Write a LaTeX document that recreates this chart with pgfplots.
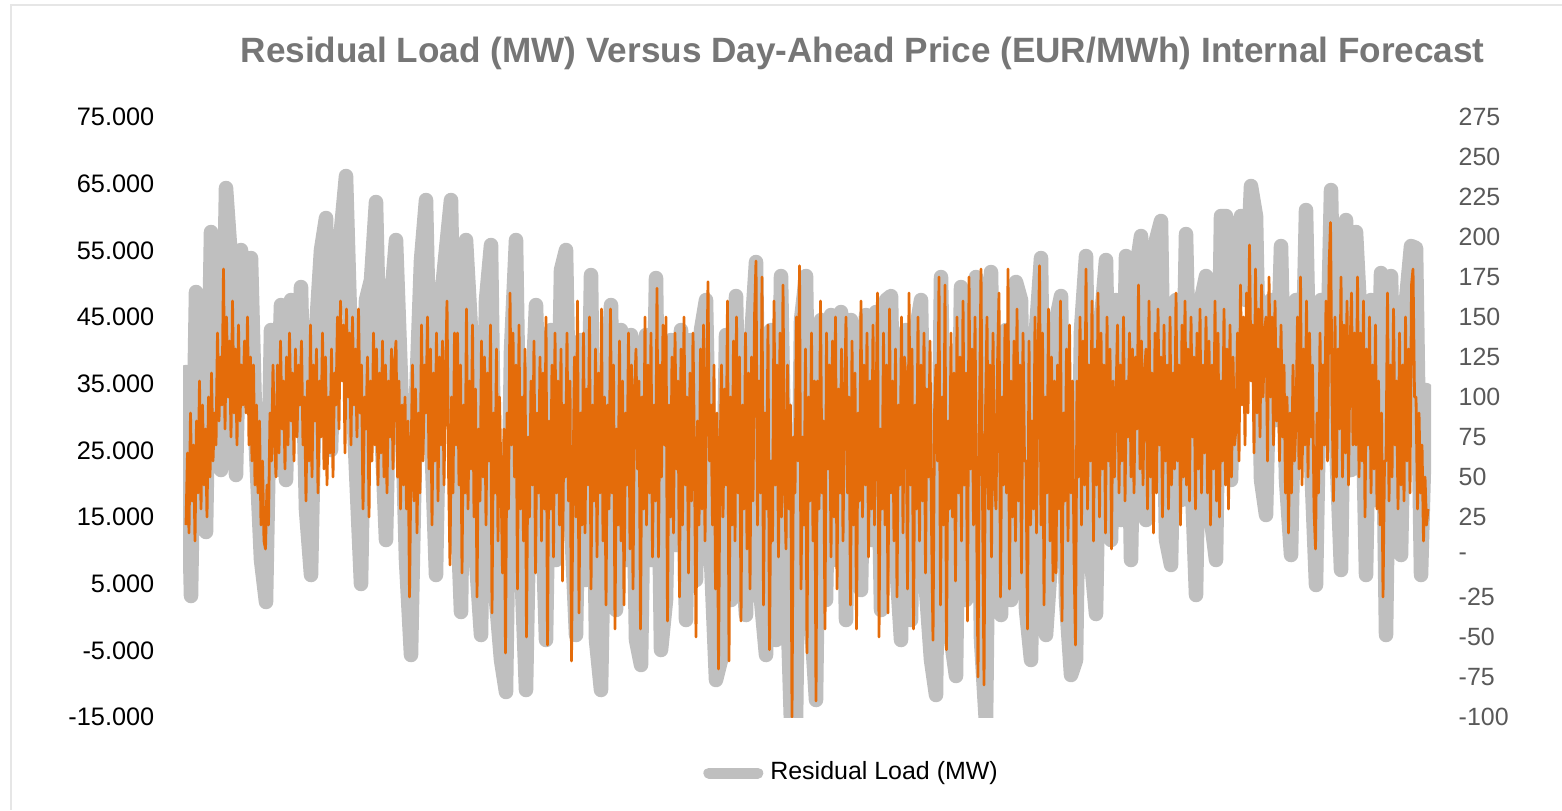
\documentclass[border=0pt]{standalone}
\usepackage{pgfplots}
\pgfplotsset{compat=1.18}
\usepackage{pgfplotstable}
\usepackage{fontspec}
\setmainfont{Liberation Sans}
\definecolor{grayc}{HTML}{BFBFBF}
\definecolor{orangec}{HTML}{E46C0A}
\definecolor{titlec}{HTML}{767676}
\definecolor{rtick}{HTML}{595959}
\definecolor{framec}{HTML}{E6E6E6}

% Residual load (MW), one value every 5 px of the plot width
\pgfplotstableread[row sep=\\]{
y\\
36750\\ 3150\\ 48750\\ 29550\\ 12750\\ 57750\\ 43050\\ 22050\\ 64350\\ 53550\\
21300\\ 55050\\ 32550\\ 53850\\ 25050\\ 8550\\ 2250\\ 43050\\ 22050\\ 46800\\
20550\\ 47550\\ 28050\\ 49500\\ 16050\\ 6300\\ 43050\\ 55050\\ 59850\\ 25050\\
49050\\ 58050\\ 66150\\ 40050\\ 22050\\ 4950\\ 47550\\ 50550\\ 62250\\ 29550\\
11550\\ 47550\\ 56550\\ 35550\\ 8550\\ -5700\\ 32550\\ 53550\\ 62550\\ 28050\\
6300\\ 47550\\ 55050\\ 62550\\ 20550\\ 750\\ 56550\\ 43050\\ 8550\\ -2700\\
47550\\ 55800\\ 2550\\ -6450\\ -11250\\ 40050\\ 56550\\ 8550\\ -10950\\ 29550\\
46800\\ 20550\\ -3450\\ 43050\\ 8550\\ 52050\\ 55050\\ 14550\\ -2700\\ 41550\\
5550\\ 51300\\ -3450\\ -10950\\ 29550\\ 46800\\ 1050\\ 43050\\ 8550\\ 42300\\
-3450\\ -7200\\ 42300\\ 8550\\ 50850\\ -4950\\ 2550\\ 41550\\ 10800\\ 43050\\
-450\\ 41550\\ 5550\\ 43050\\ 47550\\ 8550\\ -9450\\ -6450\\ 42300\\ 2550\\
48150\\ 11550\\ 300\\ 41550\\ 53250\\ 2550\\ -5700\\ 43050\\ -3450\\ 51150\\
8550\\ -16000\\ -16000\\ 44550\\ 51150\\ -450\\ -12450\\ 44550\\ 2550\\ 45300\\
8550\\ 45750\\ -450\\ 44550\\ 5550\\ 4050\\ 45300\\ 11550\\ 45750\\ 1050\\
47550\\ 48150\\ 8550\\ -3450\\ 43050\\ -450\\ 43050\\ 47550\\ 4050\\ -6450\\
-11700\\ 51000\\ 8550\\ -3450\\ -8850\\ 49500\\ 2550\\ 43050\\ 51000\\ -3450\\
-16000\\ 51750\\ 8550\\ 300\\ 43050\\ 2550\\ 50250\\ 47550\\ 1050\\ -6450\\
43050\\ 53850\\ -2700\\ 8550\\ 44550\\ 48150\\ 2550\\ -8700\\ -6450\\ 43050\\
54150\\ 8550\\ 450\\ 44550\\ 53550\\ 11550\\ 47550\\ 14550\\ 54150\\ 8550\\
52050\\ 57150\\ 14550\\ 43050\\ 56550\\ 59400\\ 11550\\ 7800\\ 47550\\ 17550\\
57450\\ 23550\\ 3300\\ 47550\\ 51150\\ 14550\\ 8550\\ 60150\\ 60150\\ 20550\\
53550\\ 60150\\ 47550\\ 64650\\ 60150\\ 20550\\ 15300\\ 47550\\ 29550\\ 55650\\
20550\\ 9300\\ 47550\\ 26550\\ 61050\\ 23550\\ 4800\\ 47550\\ 29550\\ 64050\\
26550\\ 7050\\ 59550\\ 22050\\ 57750\\ 43050\\ 6300\\ 47550\\ 17550\\ 51600\\
-2700\\ 51150\\ 20550\\ 9300\\ 47550\\ 55650\\ 55350\\ 6300\\ 34050\\
}\grayload

% Day-ahead price (EUR/MWh), one value every 1.5 px of the plot width
\pgfplotstableread[row sep=\\]{
y\\
20\\ 65\\ 15\\ 90\\ 35\\ 70\\ 10\\ 85\\ 40\\ 110\\ 30\\ 95\\ 45\\ 80\\ 25\\ 100\\ 50\\ 115\\ 60\\ 90\\
70\\ 140\\ 85\\ 125\\ 95\\ 180\\ 80\\ 150\\ 100\\ 135\\ 75\\ 160\\ 90\\ 130\\ 70\\ 145\\ 85\\ 120\\ 95\\ 135\\
90\\ 150\\ 70\\ 125\\ 60\\ 120\\ 45\\ 95\\ 40\\ 85\\ 20\\ 60\\ 10\\ 5\\ 45\\ 20\\ 90\\ 60\\ 120\\ 75\\
50\\ 120\\ 65\\ 135\\ 80\\ 110\\ 55\\ 125\\ 70\\ 140\\ 85\\ 115\\ 60\\ 130\\ 75\\ 120\\ 95\\ 135\\ 70\\ 100\\
35\\ 110\\ 60\\ 145\\ 50\\ 120\\ 85\\ 130\\ 40\\ 110\\ 75\\ 140\\ 55\\ 125\\ 45\\ 100\\ 65\\ 130\\ 50\\ 115\\
95\\ 150\\ 80\\ 160\\ 110\\ 145\\ 65\\ 155\\ 100\\ 140\\ 70\\ 150\\ 95\\ 130\\ 75\\ 155\\ 90\\ 120\\ 30\\ 100\\
80\\ 125\\ 25\\ 110\\ 60\\ 140\\ 70\\ 130\\ 45\\ 115\\ 65\\ 135\\ 50\\ 120\\ 40\\ 110\\ 75\\ 130\\ 55\\ 120\\
135\\ 50\\ 110\\ 30\\ 95\\ 45\\ 100\\ 30\\ 85\\ -25\\ 60\\ 120\\ 35\\ 105\\ 15\\ 90\\ 40\\ 145\\ 60\\ 120\\
90\\ 150\\ 55\\ 130\\ 20\\ 115\\ 60\\ 140\\ 35\\ 125\\ 70\\ 135\\ 45\\ 110\\ 160\\ 55\\ -5\\ 100\\ 40\\ 140\\
70\\ 140\\ 45\\ 120\\ -10\\ 95\\ 40\\ 155\\ 30\\ 110\\ 55\\ 145\\ 25\\ 105\\ -25\\ 80\\ 35\\ 135\\ 50\\ 125\\
20\\ 115\\ 60\\ 145\\ -35\\ 90\\ 40\\ 130\\ 10\\ 100\\ 50\\ -10\\ 80\\ -60\\ 90\\ 30\\ 165\\ 70\\ 140\\ 50\\
120\\ -20\\ 145\\ 30\\ 100\\ 10\\ 130\\ -50\\ 75\\ 25\\ 110\\ 45\\ 135\\ -10\\ 90\\ 40\\ 125\\ 10\\ 115\\ 30\\
150\\ -55\\ 85\\ 30\\ 120\\ 0\\ 140\\ 40\\ 110\\ 20\\ 130\\ -15\\ 95\\ 50\\ 140\\ 35\\ 110\\ -65\\ 45\\ 125\\
25\\ 160\\ -35\\ 90\\ 20\\ 140\\ 15\\ 105\\ 45\\ 150\\ -20\\ 95\\ 35\\ 130\\ 0\\ 115\\ 40\\ 155\\ 10\\ 100\\
-30\\ 95\\ 30\\ 155\\ 40\\ 120\\ -45\\ 80\\ 20\\ 135\\ 10\\ 110\\ -30\\ 90\\ 45\\ 140\\ 5\\ 120\\ -20\\ 100\\
130\\ 55\\ 110\\ -45\\ 100\\ 30\\ 150\\ 20\\ 120\\ 40\\ 140\\ 0\\ 95\\ 35\\ 168\\ 0\\ 120\\ 50\\ 145\\ 70\\
150\\ -40\\ 95\\ 25\\ 125\\ 15\\ 140\\ 55\\ 110\\ -25\\ 130\\ 20\\ 150\\ 45\\ 100\\ -10\\ 115\\ 35\\ 140\\ 60\\
-50\\ 85\\ 20\\ 130\\ 30\\ 145\\ 10\\ 100\\ 172\\ 60\\ 95\\ 20\\ 120\\ -20\\ 90\\ -70\\ 60\\ 120\\ 25\\ 105\\
45\\ 160\\ -65\\ 100\\ 20\\ 135\\ 10\\ 150\\ 40\\ 125\\ -40\\ 95\\ 30\\ 140\\ 5\\ 115\\ -20\\ 125\\ 35\\ 150\\
185\\ 20\\ 110\\ 40\\ 175\\ -30\\ 90\\ 30\\ 145\\ -58\\ 60\\ 10\\ 160\\ 45\\ 120\\ 0\\ 140\\ 25\\ 170\\ 50\\
5\\ 120\\ 30\\ 95\\ -100\\ 75\\ 40\\ 150\\ 60\\ 182\\ -20\\ 75\\ 20\\ 130\\ -60\\ 100\\ 35\\ 140\\ 10\\ 110\\
-90\\ 110\\ 30\\ 160\\ 40\\ 85\\ -45\\ 140\\ 55\\ 120\\ 0\\ 135\\ 25\\ 150\\ -20\\ 105\\ 40\\ 130\\ 10\\ 95\\
150\\ 40\\ 100\\ -30\\ 135\\ 20\\ 115\\ -45\\ 90\\ 35\\ 160\\ 25\\ 120\\ 45\\ 140\\ 0\\ 110\\ 30\\ 145\\ 20\\
90\\ 165\\ -50\\ 80\\ 30\\ 140\\ 20\\ 120\\ -35\\ 155\\ 40\\ 110\\ 10\\ 130\\ -25\\ 95\\ 45\\ 150\\ 15\\ 125\\
110\\ -20\\ 165\\ 45\\ 130\\ -45\\ 95\\ 30\\ 150\\ 10\\ 120\\ 35\\ 140\\ -10\\ 105\\ 50\\ 135\\ 20\\ -52\\ 90\\
120\\ 60\\ 175\\ -30\\ 100\\ 20\\ 170\\ -58\\ 85\\ 30\\ 140\\ 25\\ 115\\ -15\\ 150\\ 40\\ 125\\ 10\\ 160\\ 45\\
115\\ -40\\ 175\\ 55\\ 130\\ 20\\ 150\\ 30\\ -75\\ 90\\ 180\\ 40\\ -80\\ 90\\ 150\\ 30\\ 120\\ 0\\ 140\\ 50\\
30\\ 120\\ 165\\ -25\\ 100\\ 45\\ 145\\ 40\\ 180\\ -20\\ 110\\ 25\\ 135\\ 10\\ 155\\ 35\\ 120\\ -10\\ 140\\ 60\\
60\\ -45\\ 135\\ 20\\ 85\\ 30\\ 150\\ 15\\ 120\\ 182\\ 20\\ 140\\ -30\\ 100\\ 40\\ 155\\ 10\\ 125\\ -15\\ 110\\
-10\\ 120\\ 30\\ 160\\ -40\\ 90\\ 35\\ 130\\ 10\\ 145\\ 40\\ 110\\ 0\\ -55\\ 110\\ 50\\ 150\\ 20\\ 135\\ 45\\
180\\ 30\\ 120\\ 60\\ 160\\ 10\\ 130\\ 45\\ 165\\ 25\\ 140\\ 55\\ 120\\ 15\\ 150\\ 60\\ 130\\ 5\\ 110\\ 50\\
100\\ 145\\ 40\\ 120\\ 60\\ 150\\ 35\\ 110\\ 75\\ 140\\ 50\\ 130\\ 40\\ 125\\ 80\\ 170\\ 55\\ 135\\ 45\\ 115\\
130\\ 30\\ 160\\ 50\\ 115\\ 15\\ 140\\ 40\\ 155\\ 70\\ 125\\ 25\\ 145\\ 60\\ 120\\ 30\\ 150\\ 45\\ 115\\ 55\\
165\\ 60\\ 120\\ 20\\ 145\\ 50\\ 160\\ 45\\ 130\\ 35\\ 150\\ 75\\ 125\\ 30\\ 140\\ 55\\ 155\\ 40\\ 120\\ 65\\
150\\ 40\\ 135\\ 20\\ 120\\ 55\\ 160\\ 35\\ 140\\ 25\\ 110\\ 60\\ 155\\ 45\\ 130\\ 30\\ 145\\ 50\\ 125\\ 70\\
80\\ 140\\ 60\\ 170\\ 95\\ 150\\ 70\\ 165\\ 90\\ 195\\ 110\\ 145\\ 65\\ 180\\ 90\\ 155\\ 75\\ 170\\ 100\\ 140\\
150\\ 60\\ 175\\ 100\\ 150\\ 70\\ 160\\ 85\\ 130\\ 60\\ 145\\ 75\\ 120\\ 40\\ 100\\ 15\\ 90\\ 40\\ 120\\ 60\\
85\\ 150\\ 55\\ 175\\ 45\\ 130\\ 70\\ 160\\ 50\\ 140\\ 75\\ 120\\ 30\\ 5\\ 90\\ 40\\ 140\\ 55\\ 120\\ 70\\
160\\ 60\\ 180\\ 209\\ 100\\ 35\\ 150\\ 50\\ 130\\ 80\\ 175\\ 50\\ 145\\ 65\\ 160\\ 45\\ 130\\ 165\\ 70\\ 140\\
70\\ 175\\ 50\\ 140\\ 60\\ 160\\ 25\\ 130\\ 70\\ 150\\ 40\\ 120\\ 55\\ 145\\ 30\\ 110\\ 20\\ 90\\ -25\\ 60\\
60\\ 165\\ 35\\ 120\\ 50\\ 155\\ 70\\ 110\\ 30\\ 140\\ 45\\ 120\\ 35\\ 150\\ 60\\ 130\\ 40\\ 170\\ 180\\ 100\\
100\\ 30\\ 90\\ 40\\ 70\\ 10\\ 50\\ 20\\ 30\\
}\priceload

\begin{document}
\begin{tikzpicture}
\useasboundingbox (0,0) rectangle (15.62cm,8.10cm);
\draw[framec, line width=0.2mm] (0.11cm,0cm) -- (0.11cm,8.05cm) -- (15.62cm,8.05cm);
\node[anchor=base west, inner sep=0pt, text=titlec, font=\fontsize{10.0}{12}\selectfont\bfseries] at (2.40cm,7.48cm) {Residual Load (MW) Versus Day-Ahead Price (EUR/MWh) Internal Forecast};

\begin{axis}[
  scale only axis, width=12.48cm, height=6cm,
  at={(1.83cm,0.93cm)}, anchor=south west,
  xmin=183, xmax=1431, ymin=-15000, ymax=75000,
  scaled y ticks=false, scaled x ticks=false,
  axis line style={draw=none}, major tick length=0pt,
  xtick=\empty,
  ytick={-15000,-5000,5000,15000,25000,35000,45000,55000,65000,75000},
  yticklabels={-15.000,-5.000,5.000,15.000,25.000,35.000,45.000,55.000,65.000,75.000},
  yticklabel style={anchor=east, inner sep=0pt, xshift=-2.8mm, font=\fontsize{7.2}{8}\selectfont, text=black},
  legend style={at={(0.5377,-0.0933)}, anchor=center, draw=none, fill=none, font=\fontsize{7.1}{8}\selectfont, inner sep=0pt},
  legend cell align=left,
  legend image code/.code={\draw[grayc, line width=1.1mm, line cap=round] (0.55mm,0mm) -- (5.45mm,0mm);},
]
\addplot[grayc, line width=1.45mm, line join=round, line cap=round] table[x expr=186+5*\coordindex, y=y] {\grayload};
\addlegendentry{Residual Load (MW)}
\end{axis}

\begin{axis}[
  scale only axis, width=12.48cm, height=6cm,
  at={(1.83cm,0.93cm)}, anchor=south west,
  xmin=183, xmax=1431, ymin=-100, ymax=275,
  scaled y ticks=false,
  axis x line=none, axis y line*=right,
  axis line style={draw=none}, major tick length=0pt,
  xtick=\empty,
  ytick={-100,-75,-50,-25,0,25,50,75,100,125,150,175,200,225,250,275},
  yticklabels={-100,-75,-50,-25,-,25,50,75,100,125,150,175,200,225,250,275},
  yticklabel style={anchor=west, inner sep=0pt, xshift=2.7mm, font=\fontsize{7.1}{8}\selectfont, text=rtick},
]
\addplot[orangec, line width=0.28mm, line join=round] table[x expr=186+1.5*\coordindex, y=y] {\priceload};
\end{axis}
\end{tikzpicture}
\end{document}
